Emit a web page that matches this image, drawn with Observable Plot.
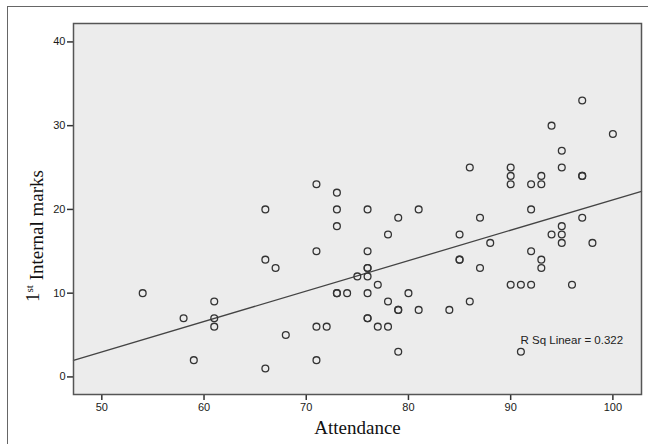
<!DOCTYPE html>
<html>
<head>
<meta charset="utf-8">
<script src="https://cdn.jsdelivr.net/npm/d3@7"></script>
<script src="https://cdn.jsdelivr.net/npm/@observablehq/plot@0.6"></script>
<style>
  html, body { margin: 0; padding: 0; background: #fff; }
  #wrap { position: relative; width: 648px; height: 444px; overflow: hidden; }
  #border { position: absolute; left: 7px; top: 6px; width: 660px; height: 460px;
            border-left: 1.5px solid #666; border-top: 1.5px solid #666; pointer-events: none; }
</style>
</head>
<body>
<div id="wrap"><div id="border"></div></div>
<script>
// Data
const attendance = [54,58,59,61,61,61,66,66,66,67,68,71,71,71,71,72,73,73,73,73,73,74,75,76,76,76,76,76,76,76,76,77,77,78,78,78,79,79,79,79,80,81,81,84,85,85,85,86,86,87,87,88,90,90,90,90,91,91,92,92,92,92,93,93,93,93,94,94,95,95,95,95,95,96,97,97,97,97,98,100];
const marks      = [10, 7, 2, 9, 7, 6,20,14, 1,13, 5,23,15, 6, 2, 6,22,20,18,10,10,10,12,20,15,13,13,12,10, 7, 7,11, 6,17, 9, 6,19, 8, 8, 3,10,20, 8, 8,17,14,14,25, 9,19,13,16,25,24,23,11,11, 3,23,20,15,11,24,23,14,13,30,17,27,25,18,17,16,11,33,24,24,19,16,29];
const xTicks = [50, 60, 70, 80, 90, 100];
const yTicks = [0, 10, 20, 30, 40];
const xDomain = [47.23, 102.8];
const yDomain = [-2.1, 42.2];
const xTitle = "Attendance";
const rsqLabel = "R Sq Linear = 0.322";

const data = attendance.map((a, i) => ({attendance: a, marks: marks[i]}));

// Ordinary least-squares fit, drawn across the full x extent (as SPSS does)
const mx = d3.mean(attendance), my = d3.mean(marks);
const sxy = d3.sum(data, d => (d.attendance - mx) * (d.marks - my));
const sxx = d3.sum(data, d => (d.attendance - mx) ** 2);
const slope = sxy / sxx, intercept = my - slope * mx;
const fit = xDomain.map(x => ({attendance: x, marks: intercept + slope * x}));

const chart = Plot.plot({
  width: 648,
  height: 444,
  marginLeft: 73,
  marginRight: 7,
  marginTop: 23,
  marginBottom: 50,
  style: {fontFamily: "'Liberation Sans', Arial, sans-serif", fontSize: "11px", color: "#222", background: "transparent"},
  x: {domain: xDomain, ticks: xTicks},
  y: {domain: yDomain, ticks: yTicks},
  marks: [
    Plot.frame({fill: "#ececec", stroke: "none"}),
    Plot.axisX({ticks: xTicks, tickSize: 6, tickPadding: 3, label: null, stroke: "#333", strokeWidth: 1.5, fill: "#1a1a1a"}),
    Plot.axisY({ticks: yTicks, tickSize: 6, tickPadding: 2, label: null, stroke: "#333", strokeWidth: 1.5, fill: "#1a1a1a"}),
    Plot.line(fit, {x: "attendance", y: "marks", stroke: "#444", strokeWidth: 1.3}),
    Plot.dot(data, {x: "attendance", y: "marks", r: 3.4, stroke: "#333", strokeWidth: 1.3, fill: "none"}),
    Plot.text([rsqLabel], {frameAnchor: "bottom-right", textAnchor: "start", dx: -121, dy: -51, fontSize: 11.5, fill: "#222"}),
    Plot.text([xTitle], {frameAnchor: "bottom", dy: 39, fontSize: 19, fontFamily: "'Liberation Serif', 'Times New Roman', serif", fill: "#111"}),
    Plot.frame({stroke: "#555", strokeWidth: 1.5, fill: "none"})
  ]
});

// y-axis title with a superscript ordinal
const svg = d3.select(chart);
const yt = svg.append("text")
  .attr("transform", "translate(32,236) rotate(-90)")
  .attr("text-anchor", "middle")
  .attr("dy", "0.35em")
  .style("font-family", "'Liberation Serif', 'Times New Roman', serif")
  .style("font-size", "19px")
  .attr("fill", "#111");
yt.append("tspan").text("1");
yt.append("tspan").attr("dy", "-0.5em").style("font-size", "11px").text("st");
yt.append("tspan").attr("dy", "0.5em").text(" Internal marks");

document.getElementById("wrap").appendChild(chart);
</script>
</body>
</html>
